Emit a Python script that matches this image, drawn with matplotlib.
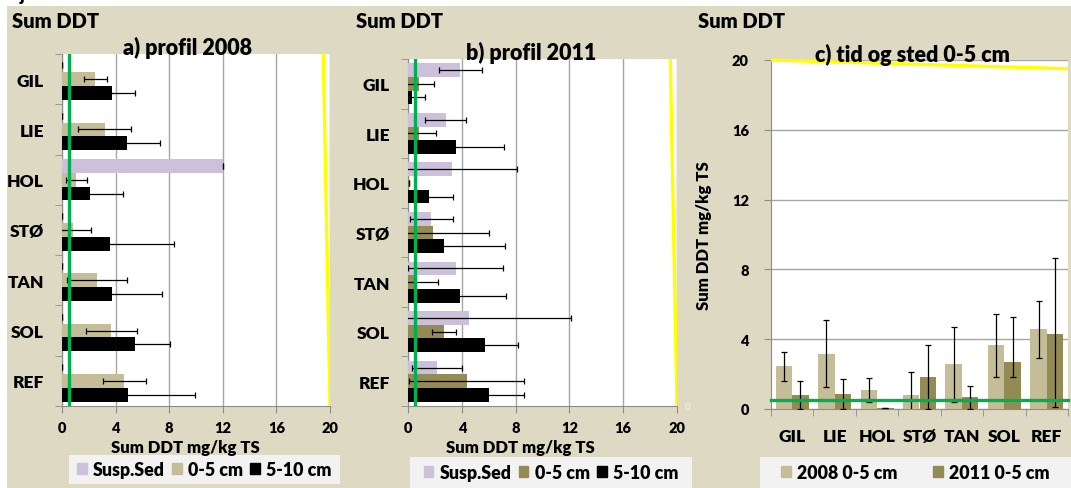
import matplotlib
matplotlib.use('Agg')
import matplotlib.pyplot as plt
import numpy as np
from matplotlib.patches import Rectangle, Patch

# ---------------- data ----------------
sites = ['GIL', 'LIE', 'HOL', 'STØ', 'TAN', 'SOL', 'REF']
x_ticks = [0, 4, 8, 12, 16, 20]
c_y_ticks = [0, 4, 8, 12, 16, 20]

# a) profil 2008
a_susp = [0, 0, 12.0, 0, 0, 0, 0]
a_susp_err = [0, 0, 0, 0, 0, 0, 0]
a_05 = [2.49, 3.18, 1.07, 0.80, 2.61, 3.68, 4.65]
a_05_err = [0.87, 1.95, 0.80, 1.36, 2.24, 1.90, 1.62]
a_510 = [3.73, 4.85, 2.11, 3.60, 3.73, 5.47, 4.93]
a_510_err = [1.74, 2.44, 2.42, 4.73, 3.73, 2.61, 4.97]

# b) profil 2011
b_susp = [3.90, 2.81, 3.30, 1.74, 3.55, 4.52, 2.16]
b_susp_err = [1.57, 1.51, 4.82, 1.61, 3.53, 7.58, 1.89]
b_05 = [0.80, 0.84, 0.05, 1.84, 0.62, 2.68, 4.35]
b_05_err = [1.14, 1.25, 0.0, 4.15, 1.62, 0.87, 4.25]
b_510 = [0.32, 3.55, 1.57, 2.68, 3.85, 5.71, 6.01]
b_510_err = [0.97, 3.61, 1.78, 4.55, 3.43, 2.44, 2.59]

# c) tid og sted 0-5 cm
c_2008 = [2.48, 3.18, 1.09, 0.80, 2.57, 3.66, 4.61]
c_2008_em = [0.86, 1.94, 0.71, 1.30, 2.19, 1.85, 1.66]
c_2008_ep = [0.76, 1.92, 0.66, 1.30, 2.15, 1.81, 1.58]
c_2011 = [0.80, 0.86, 0.06, 1.83, 0.67, 2.67, 4.32]
c_2011_em = [0.78, 0.85, 0.0, 1.85, 0.66, 0.86, 4.22]
c_2011_ep = [0.78, 0.85, 0.0, 1.85, 0.66, 2.63, 4.35]

green_limit = 0.5
yellow_start, yellow_end = 19.5, 20.0

# ---------------- style ----------------
WT = 'heavy'
plt.rcParams['font.family'] = ['Lato', 'DejaVu Sans']
plt.rcParams['font.weight'] = WT
BEIGE = '#DDD9C3'
LEG_BG = '#F2F2F2'
C_SUSP = '#CCC0DA'
C_08 = '#C4BD97'
C_11 = '#948A54'
C_510 = '#000000'
GRID = '#A6A6A6'
SPINE = '#8C8C8C'
GREEN = '#00B050'
YELLOW = '#FFFF00'

W, H = 1071, 489
fig = plt.figure(figsize=(W / 100, H / 100), dpi=100, facecolor='white')

def fx(px):
    return px / W

def fy(py):
    return 1 - py / H

def add_ax(l, t, r, b):
    ax = fig.add_axes([fx(l), fy(b), (r - l) / W, (b - t) / H])
    ax.set_zorder(3)
    return ax

# background
fig.patches.append(Rectangle((fx(7), 0), 1 - fx(7), fy(7), transform=fig.transFigure,
                             facecolor=BEIGE, edgecolor='none', zorder=-10))
fig.text(fx(20), fy(1), 'j', fontsize=13, va='baseline', ha='left', fontweight=WT)

err_kw = dict(ecolor='black', elinewidth=0.9, capsize=2.2, capthick=0.9)


def profile_panel(ax, susp, susp_err, v05, v05_err, v510, v510_err, c05):
    n = len(sites)
    y = np.arange(n)
    h = 0.275
    ax.set_facecolor('white')
    ax.barh(y - h, susp, height=h, color=C_SUSP, xerr=susp_err, error_kw=err_kw, zorder=3)
    ax.barh(y, v05, height=h, color=c05, xerr=v05_err, error_kw=err_kw, zorder=3)
    ax.barh(y + h, v510, height=h, color=C_510, xerr=v510_err, error_kw=err_kw, zorder=3)
    ax.set_xlim(0, 20)
    ax.set_ylim(n - 0.5, -0.5)
    ax.set_xticks(x_ticks)
    ax.set_xticklabels([str(t) for t in x_ticks], fontsize=10.5, fontweight=WT)
    ax.set_yticks(y)
    ax.set_yticklabels(sites, fontsize=12.5, fontweight=WT)
    ax.set_yticks(np.arange(n + 1) - 0.5, minor=True)
    ax.tick_params(axis='y', which='major', length=0, pad=13)
    ax.tick_params(axis='y', which='minor', length=5, color=SPINE, direction='out')
    ax.tick_params(axis='x', which='major', length=5, color=SPINE, direction='out', pad=6)
    ax.grid(axis='x', color=GRID, lw=1.0, zorder=1)
    for s in ['top', 'right']:
        ax.spines[s].set_visible(False)
    for s in ['left', 'bottom']:
        ax.spines[s].set_color(SPINE)
    ax.axvline(green_limit, color=GREEN, lw=2.4, zorder=5)
    ax.plot([yellow_start, yellow_end], [-0.5, n - 0.5], color=YELLOW, lw=2.4, zorder=5,
            solid_capstyle='butt')
    ax.set_xlabel('Sum DDT mg/kg TS', fontsize=12, fontweight=WT)


# ---- panel a ----
axa = add_ax(62, 55, 330, 407)
profile_panel(axa, a_susp, a_susp_err, a_05, a_05_err, a_510, a_510_err, C_08)
axa.xaxis.set_label_coords((185 - 62) / 268, -(440 - 407) / 352)

# ---- panel b ----
axb = add_ax(408, 60, 677, 407)
profile_panel(axb, b_susp, b_susp_err, b_05, b_05_err, b_510, b_510_err, C_11)
axb.xaxis.set_label_coords((520 - 408) / 269, -(440 - 407) / 347)

# ---- panel c ----
axc = add_ax(771, 61, 1068, 410)
n = len(sites)
xc = np.arange(n)
w = 0.39
axc.bar(xc - w / 2, c_2008, width=w, color=C_08, yerr=[c_2008_em, c_2008_ep],
        error_kw=err_kw, zorder=3)
axc.bar(xc + w / 2, c_2011, width=w, color=C_11, yerr=[c_2011_em, c_2011_ep],
        error_kw=err_kw, zorder=3)
axc.set_xlim(-0.5, n - 0.5)
axc.set_ylim(0, 20)
axc.set_yticks(c_y_ticks)
axc.set_yticklabels([str(t) for t in c_y_ticks], fontsize=10.5, fontweight=WT)
axc.set_xticks(xc)
axc.set_xticklabels(sites, fontsize=12.5, fontweight=WT)
axc.set_xticks(np.arange(n + 1) - 0.5, minor=True)
axc.tick_params(axis='x', which='major', length=0, pad=14)
axc.tick_params(axis='x', which='minor', length=5, color=SPINE, direction='out')
axc.tick_params(axis='y', which='major', length=5, color=SPINE, direction='out', pad=11)
axc.grid(axis='y', color=GRID, lw=1.0, zorder=1)
for s in ['top', 'right']:
    axc.spines[s].set_visible(False)
for s in ['left', 'bottom']:
    axc.spines[s].set_color(SPINE)
axc.axhline(green_limit, color=GREEN, lw=2.4, zorder=5, clip_on=False)
axc.plot([-0.5, n - 0.5], [yellow_end, yellow_start], color=YELLOW, lw=2.4, zorder=5,
         clip_on=False, solid_capstyle='butt')
axc.set_ylabel('Sum DDT mg/kg TS', fontsize=12, fontweight=WT)
axc.yaxis.set_label_coords((712 - 771) / 297, 0.5)

# panel titles
for xp, yp, t in ((188, 48, 'a) profil 2008'), (531, 53, 'b) profil 2011'),
                  (912, 55, 'c) tid og sted 0-5 cm')):
    fig.text(fx(xp), fy(yp), t, fontsize=15.5, fontweight=WT, ha='center', va='center', zorder=6)

# "Sum DDT" headers
for xp in (12, 356, 698):
    fig.text(fx(xp), fy(22), 'Sum DDT', fontsize=14.5, fontweight=WT, va='center', ha='left')

# faint residual label
fig.text(fx(688), fy(408), '0', fontsize=7, color='#EEEBDD', ha='center', va='center')

# ---------------- legends ----------------
def legend_box(l, t, r, b, handles, labels, fs, colsp):
    fig.patches.append(Rectangle((fx(l), fy(b)), (r - l) / W, (b - t) / H,
                                 transform=fig.transFigure, facecolor=LEG_BG,
                                 edgecolor='none', zorder=1))
    fig.legend(handles, labels, loc='center', bbox_to_anchor=(fx((l + r) / 2), fy((t + b) / 2)),
               ncol=len(handles), frameon=False, handlelength=0.55,
               handleheight=0.6, handletextpad=0.35, columnspacing=colsp, borderpad=0,
               prop={'weight': WT, 'size': fs})

legend_box(69, 456, 340, 485,
           [Patch(color=C_SUSP), Patch(color=C_08), Patch(color=C_510)],
           ['Susp.Sed', '0-5 cm', '5-10 cm'], 12.8, 0.4)
legend_box(410, 458, 692, 489,
           [Patch(color=C_SUSP), Patch(color=C_11), Patch(color=C_510)],
           ['Susp.Sed', '0-5 cm', '5-10 cm'], 12.8, 0.4)
legend_box(760, 458, 1071, 489,
           [Patch(color=C_08), Patch(color=C_11)],
           ['2008 0-5 cm', '2011 0-5 cm'], 12.8, 2.0)

fig.savefig('out.png', dpi=100, facecolor='white')
